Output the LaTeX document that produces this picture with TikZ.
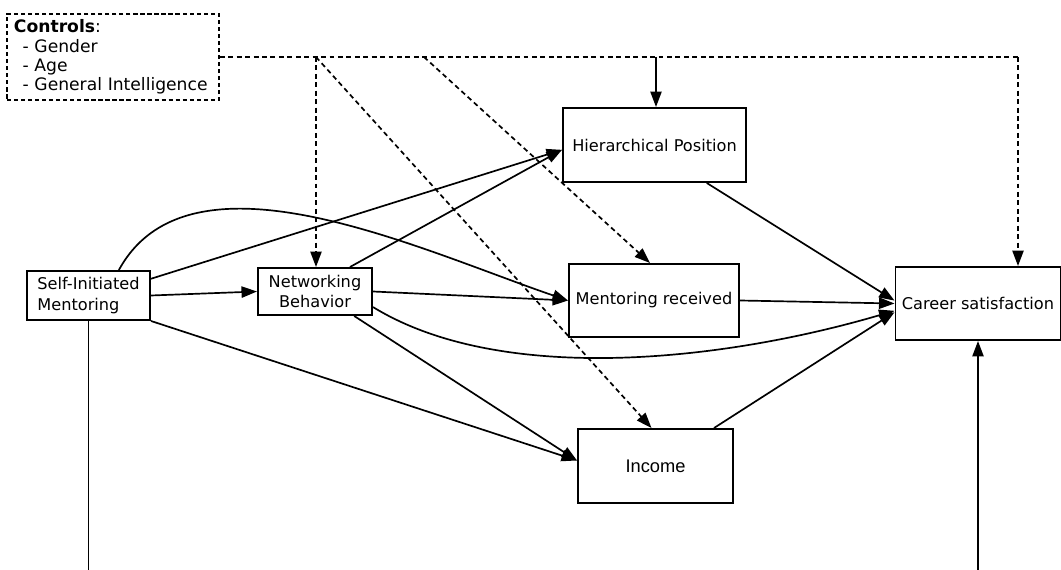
\documentclass[tikz,border=0pt]{standalone}
\usepackage{fontspec}
\setmainfont{DejaVu Sans}
\newfontfamily\incfont{Liberation Sans}
\usetikzlibrary{arrows.meta,calc}
\begin{document}
\begin{tikzpicture}[x=0.025cm, y=-0.025cm, font=\fontsize{11.5}{14.5}\selectfont,
  box/.style={draw, line width=1.4pt, inner sep=2pt},
  link/.style={-{Triangle[length=11pt,width=8pt]}, line width=1.2pt},
  ctrllink/.style={link, dash pattern=on 3.5pt off 2.5pt},
  ctrlline/.style={line width=1.2pt, dash pattern=on 3.5pt off 2.5pt}]
\useasboundingbox (0,0) rectangle (1061,570);
\node[box, dash pattern=on 3pt off 2pt, line width=1.1pt, text width=4.95cm, inner xsep=5pt, minimum height=2.15cm, align=left,
  font=\fontsize{12.2}{13.8}\selectfont] (ctrl) at (113,57)
  {\textbf{Controls}:\\ \hspace{0.5em}- Gender\\ \hspace{0.5em}- Age\\ \hspace{0.5em}- General Intelligence};
\node[box, minimum width=3.075cm, minimum height=1.225cm, align=left] (sim) at (88.5,295.5) {Self-Initiated\\Mentoring};
\node[box, minimum width=2.85cm, minimum height=1.175cm, align=center] (nb) at (315,291.5) {Networking\\Behavior};
\node[box, minimum width=4.575cm, minimum height=1.85cm] (hp) at (654.5,145) {Hierarchical Position};
\node[box, minimum width=4.25cm, minimum height=1.825cm] (mr) at (654,300.5) {Mentoring received};
\node[box, minimum width=3.875cm, minimum height=1.85cm, font=\incfont\fontsize{13}{14}\selectfont] (inc) at (655.5,466) {Income};
\node[box, minimum width=4.125cm, minimum height=1.825cm] (cs) at (978,303.5) {Career satisfaction};
\coordinate (j1) at (316,57);
\coordinate (j2) at (424,57);
\coordinate (j3) at (656,57);
\coordinate (j4) at (1018,57);
\coordinate (b1) at (0,570);
\draw[ctrlline] (ctrl.east) -- (j4);
\draw[ctrllink] (j4) -- (cs.north -| j4);
\draw[ctrllink] (j1) -- (nb.north -| j1);
\draw[ctrllink] (j1) -- ($(inc.north)+(-4,0)$);
\draw[ctrllink] (j2) -- ($(mr.north)+(-4,0)$);
\draw[link] (j3) -- (hp.north -| j3);
\draw[link] (sim.east) -- (nb.west);
\draw[link] (sim.15) -- (hp.183);
\draw[link] (nb.35) -- (hp.183);
\draw[link] (sim.40) .. controls (190,140) and (420,250) .. (mr.west);
\draw[link] (nb.east) -- (mr.west);
\draw[link] (sim.south east) -- (inc.176);
\draw[link] (nb.-32) -- (inc.176);
\draw[link] (hp.-36) -- (cs.178);
\draw[link] (mr.east) -- (cs.west);
\draw[link] (nb.-15) .. controls (500,385) and (720,362) .. (cs.185);
\draw[link] (inc.33) -- (cs.186);
\draw[line width=1.2pt] (sim.south) -- (sim.south |- b1);
\draw[link] (cs.south |- b1) -- (cs.south);
\end{tikzpicture}
\end{document}
